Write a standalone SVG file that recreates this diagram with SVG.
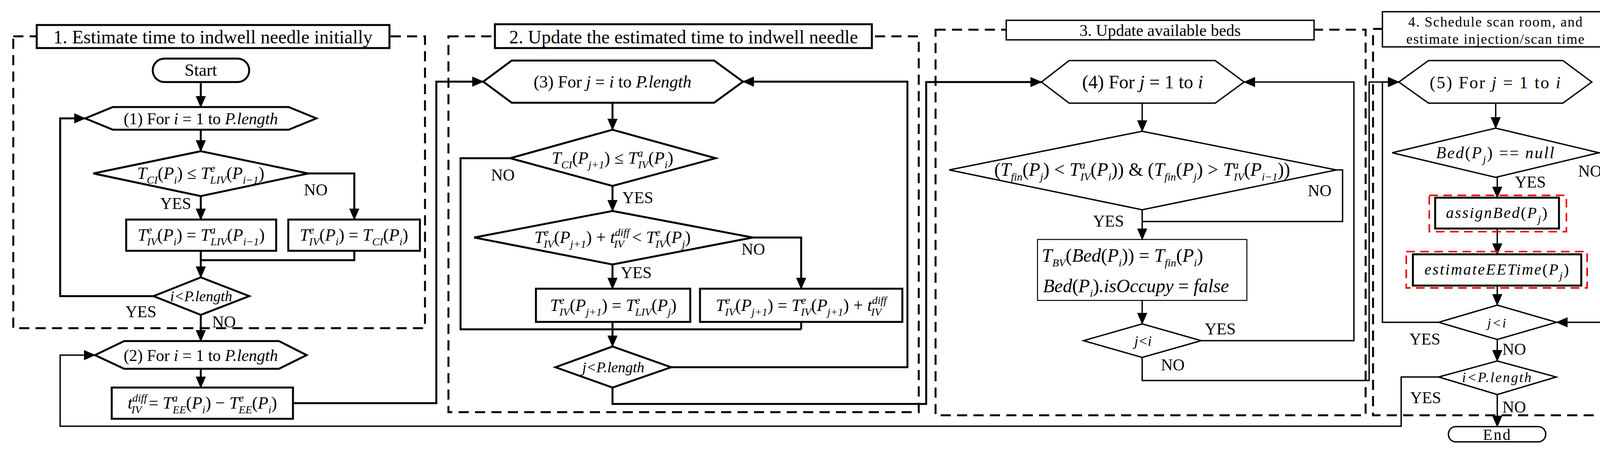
<svg xmlns="http://www.w3.org/2000/svg" width="4166" height="1157" viewBox="0 0 4166 1157">
<defs>
<marker id="ar" markerUnits="userSpaceOnUse" markerWidth="30" markerHeight="26" refX="28" refY="13" orient="auto"><path d="M0,0 L30,13 L0,26 Z" fill="#000"/></marker>
</defs>
<style>
text{font-family:"Liberation Serif","Times New Roman",serif;fill:#000}
.t{font-size:40px;text-anchor:middle}
.f{font-size:44px}
.f3{font-size:48px}
.lb{font-size:42px}
.i{font-style:italic}
.sb{font-size:28px;baseline-shift:-12px;font-style:italic}
.sp{font-size:28px;baseline-shift:18px;font-style:italic}
.pn{fill:none;stroke:#000;stroke-width:5;stroke-dasharray:26 16}
.pt{fill:#fff;stroke:#000;stroke-width:5}
.n{fill:#fff;stroke:#000;stroke-width:5}
.n3{fill:#fff;stroke:#000;stroke-width:3.5}
.c{fill:none;stroke:#000;stroke-width:5}
.c3{fill:none;stroke:#000;stroke-width:3.5}
.rd{fill:none;stroke:#e00;stroke-width:4;stroke-dasharray:22 14}
</style>
<g id="panels">
<rect class="pn" x="34" y="93" width="1054" height="747"/>
<rect class="pn" x="1148" y="93" width="1204" height="962"/>
<rect class="pn" x="2395" y="76" width="1101" height="987"/>
<rect class="pn" x="3515" y="74" width="628" height="989"/>
</g>
<g id="titles">
<rect class="pt" x="94" y="64" width="903" height="59"/>
<text class="t" x="545" y="111" style="font-size:48px">1. Estimate time to indwell needle initially</text>
<rect class="pt" x="1267" y="62" width="965" height="61"/>
<text class="t" x="1750" y="111" style="font-size:48px">2. Update the estimated time to indwell needle</text>
<rect class="n3" x="2576" y="52" width="788" height="50"/>
<text class="t" x="2970" y="92" style="font-size:42px">3. Update available beds</text>
<rect class="n3" x="3539" y="30" width="580" height="90"/>
<text class="t" x="3829" y="68" style="font-size:36px;letter-spacing:2px">4. Schedule scan room, and</text>
<text class="t" x="3829" y="112" style="font-size:36px;letter-spacing:2px">estimate injection/scan time</text>
</g>
<g id="connectors">
<path class="c" d="M514,210 V274" marker-end="url(#ar)"/>
<path class="c" d="M514,332 V387" marker-end="url(#ar)"/>
<path class="c" d="M789,444 H907 V562" marker-end="url(#ar)"/>
<path class="c" d="M514,502 V562" marker-end="url(#ar)"/>
<path class="c" d="M514,642 V710" marker-end="url(#ar)"/>
<path class="c" d="M907,642 V666 H514"/>
<path class="c" d="M393,758 H154 V303 H218" marker-end="url(#ar)"/>
<path class="c" d="M514,806 V873" marker-end="url(#ar)"/>
<path class="c" d="M514,944 V992" marker-end="url(#ar)"/>
<path class="c" d="M750,1032 H1117 V209 H1237" marker-end="url(#ar)"/>
<path class="c3" d="M3683,965 H3587 V1091 H154 V909 H243" marker-end="url(#ar)"/>
<path class="c" d="M1568,263 V332" marker-end="url(#ar)"/>
<path class="c" d="M1568,476 V540" marker-end="url(#ar)"/>
<path class="c" d="M1306,405 H1179 V843 H2051"/>
<path class="c" d="M1927,608 H2051 V739" marker-end="url(#ar)"/>
<path class="c" d="M1568,677 V739" marker-end="url(#ar)"/>
<path class="c" d="M1568,824 V887" marker-end="url(#ar)"/>
<path class="c" d="M2051,824 V843"/>
<path class="c" d="M1718,940 H2323 V209 H1902" marker-end="url(#ar)"/>
<path class="c" d="M1568,992 V1034 H2371 V210 H2666" marker-end="url(#ar)"/>
<path class="c3" d="M2924,264 V336" marker-end="url(#ar)"/>
<path class="c3" d="M3421,435 H3437 V567 H2924"/>
<path class="c3" d="M2924,537 V613" marker-end="url(#ar)"/>
<path class="c3" d="M2924,769 V829" marker-end="url(#ar)"/>
<path class="c3" d="M3075,872 H3466 V210 H3185" marker-end="url(#ar)"/>
<path class="c3" d="M2924,915 V974 H3505 V210 H3581" marker-end="url(#ar)"/>
<path class="c3" d="M3829,264 V328" marker-end="url(#ar)"/>
<path class="c3" d="M3833,454 V506" marker-end="url(#ar)"/>
<path class="c3" d="M4093,391 H4130 V825 H3985" marker-end="url(#ar)"/>
<path class="c3" d="M3833,585 V651" marker-end="url(#ar)"/>
<path class="c3" d="M3833,731 V781" marker-end="url(#ar)"/>
<path class="c3" d="M3683,825 H3539 V210 H3581" marker-end="url(#ar)"/>
<path class="c3" d="M3833,869 V924" marker-end="url(#ar)"/>
<path class="c3" d="M3833,1010 V1092" marker-end="url(#ar)"/>
</g>
<g id="labels">
<text class="lb" x="410" y="535">YES</text>
<text class="lb" x="778" y="500">NO</text>
<text class="lb" x="321" y="812">YES</text>
<text class="lb" x="543" y="838">NO</text>
<text class="lb" x="1257" y="462">NO</text>
<text class="lb" x="1593" y="520">YES</text>
<text class="lb" x="1898" y="652">NO</text>
<text class="lb" x="1589" y="712">YES</text>
<text class="lb" x="3348" y="502">NO</text>
<text class="lb" x="2798" y="580">YES</text>
<text class="lb" x="3084" y="856">YES</text>
<text class="lb" x="2972" y="948">NO</text>
<text class="lb" x="4040" y="452">NO</text>
<text class="lb" x="3878" y="480">YES</text>
<text class="lb" x="3608" y="882">YES</text>
<text class="lb" x="3846" y="908">NO</text>
<text class="lb" x="3610" y="1032">YES</text>
<text class="lb" x="3846" y="1056">NO</text>
</g>
<g id="start"><rect class="n" x="391" y="150" width="247" height="60" rx="30"/><text class="t" x="514" y="194" style="font-size:44px">Start</text></g>
<g id="for1"><polygon class="n" points="218,303 289,274 739,274 810,303 739,332 289,332"/><text class="t" x="514" y="318" style="font-size:42px">(1) For <tspan class="i">i</tspan> = 1 to <tspan class="i">P.length</tspan></text></g>
<g id="d1"><polygon class="n" points="239,444 514,387 789,444 514,502"/><text class="t f" x="514" y="458"><tspan class="i">T</tspan><tspan class="sb">CI</tspan>(<tspan class="i">P</tspan><tspan class="sb">i</tspan>) ≤ <tspan class="i">T</tspan><tspan class="sp">e</tspan><tspan class="sb" dx="-13">LIV</tspan>(<tspan class="i">P</tspan><tspan class="sb">i−1</tspan>)</text></g>
<g id="boxA"><rect class="n" x="323" y="562" width="384" height="80"/><text class="t f" x="515" y="616"><tspan class="i">T</tspan><tspan class="sp">e</tspan><tspan class="sb" dx="-13">IV</tspan>(<tspan class="i">P</tspan><tspan class="sb">i</tspan>) = <tspan class="i">T</tspan><tspan class="sp">a</tspan><tspan class="sb" dx="-13">LIV</tspan>(<tspan class="i">P</tspan><tspan class="sb">i−1</tspan>)</text></g>
<g id="boxB"><rect class="n" x="738" y="562" width="337" height="80"/><text class="t f" x="906" y="616"><tspan class="i">T</tspan><tspan class="sp">e</tspan><tspan class="sb" dx="-13">IV</tspan>(<tspan class="i">P</tspan><tspan class="sb">i</tspan>) = <tspan class="i">T</tspan><tspan class="sb">CI</tspan>(<tspan class="i">P</tspan><tspan class="sb">i</tspan>)</text></g>
<g id="d2"><polygon class="n" points="393,758 514,710 638,758 514,806"/><text class="t i" x="515" y="771" style="font-size:38px">i&lt;P.length</text></g>
<g id="for2"><polygon class="n" points="243,909 318,873 714,873 785,909 714,944 318,944"/><text class="t" x="514" y="924" style="font-size:42px">(2) For <tspan class="i">i</tspan> = 1 to <tspan class="i">P.length</tspan></text></g>
<g id="diff"><rect class="n" x="286" y="992" width="464" height="80"/><text class="t f" x="518" y="1046"><tspan class="i">t</tspan><tspan class="sp">diff</tspan><tspan class="sb" dx="-40">IV</tspan><tspan dx="18">= </tspan><tspan class="i">T</tspan><tspan class="sp">a</tspan><tspan class="sb" dx="-13">EE</tspan>(<tspan class="i">P</tspan><tspan class="sb">i</tspan>) − <tspan class="i">T</tspan><tspan class="sp">e</tspan><tspan class="sb" dx="-13">EE</tspan>(<tspan class="i">P</tspan><tspan class="sb">i</tspan>)</text></g>
<g id="for3"><polygon class="n" points="1237,209 1310,155 1828,155 1902,209 1828,263 1310,263"/><text class="t" x="1568" y="224" style="font-size:44px">(3) For <tspan class="i">j</tspan> = <tspan class="i">i</tspan> to <tspan class="i">P.length</tspan></text></g>
<g id="c1"><polygon class="n" points="1306,405 1568,332 1832,405 1568,476"/><text class="t f" x="1568" y="419"><tspan class="i">T</tspan><tspan class="sb">CI</tspan>(<tspan class="i">P</tspan><tspan class="sb">j+1</tspan>) ≤ <tspan class="i">T</tspan><tspan class="sp">a</tspan><tspan class="sb" dx="-13">IV</tspan>(<tspan class="i">P</tspan><tspan class="sb">i</tspan>)</text></g>
<g id="c2"><polygon class="n" points="1214,608 1568,540 1927,608 1568,677"/><text class="t f" x="1568" y="622"><tspan class="i">T</tspan><tspan class="sp">e</tspan><tspan class="sb" dx="-13">IV</tspan>(<tspan class="i">P</tspan><tspan class="sb">j+1</tspan>) + <tspan class="i">t</tspan><tspan class="sp">diff</tspan><tspan class="sb" dx="-40">IV</tspan><tspan dx="20">&lt; </tspan><tspan class="i">T</tspan><tspan class="sp">e</tspan><tspan class="sb" dx="-13">IV</tspan>(<tspan class="i">P</tspan><tspan class="sb">j</tspan>)</text></g>
<g id="boxC"><rect class="n" x="1372" y="739" width="395" height="85"/><text class="t f" x="1570" y="796"><tspan class="i">T</tspan><tspan class="sp">e</tspan><tspan class="sb" dx="-13">IV</tspan>(<tspan class="i">P</tspan><tspan class="sb">j+1</tspan>) = <tspan class="i">T</tspan><tspan class="sp">e</tspan><tspan class="sb" dx="-13">LIV</tspan>(<tspan class="i">P</tspan><tspan class="sb">j</tspan>)</text></g>
<g id="boxD"><rect class="n" x="1792" y="739" width="518" height="85"/><text class="t f" x="2051" y="796"><tspan class="i">T</tspan><tspan class="sp">e</tspan><tspan class="sb" dx="-13">IV</tspan>(<tspan class="i">P</tspan><tspan class="sb">j+1</tspan>) = <tspan class="i">T</tspan><tspan class="sp">e</tspan><tspan class="sb" dx="-13">IV</tspan>(<tspan class="i">P</tspan><tspan class="sb">j+1</tspan>) + <tspan class="i">t</tspan><tspan class="sp">diff</tspan><tspan class="sb" dx="-40">IV</tspan></text></g>
<g id="c3"><polygon class="n" points="1422,940 1568,887 1718,940 1568,992"/><text class="t i" x="1570" y="953" style="font-size:38px">j&lt;P.length</text></g>
<g id="for4"><polygon class="n3" points="2666,210 2737,155 3111,155 3185,210 3111,264 2737,264"/><text class="t" x="2925" y="226" style="font-size:48px">(4) For <tspan class="i">j</tspan> = 1 to <tspan class="i">i</tspan></text></g>
<g id="e1"><polygon class="n3" points="2430,435 2924,336 3421,435 2924,537"/><text class="t f3" x="2924" y="450"><tspan>(</tspan><tspan class="i">T</tspan><tspan class="sb">fin</tspan>(<tspan class="i">P</tspan><tspan class="sb">j</tspan>) &lt; <tspan class="i">T</tspan><tspan class="sp">a</tspan><tspan class="sb" dx="-13">IV</tspan>(<tspan class="i">P</tspan><tspan class="sb">i</tspan>)) &amp; (<tspan class="i">T</tspan><tspan class="sb">fin</tspan>(<tspan class="i">P</tspan><tspan class="sb">j</tspan>) &gt; <tspan class="i">T</tspan><tspan class="sp">a</tspan><tspan class="sb" dx="-13">IV</tspan>(<tspan class="i">P</tspan><tspan class="sb">i−1</tspan>))</text></g>
<g id="boxE"><rect class="n3" x="2656" y="613" width="536" height="156" style="stroke-width:2.5"/><text class="f3" x="2667" y="670"><tspan class="i">T</tspan><tspan class="sb">BV</tspan>(<tspan class="i">Bed</tspan>(<tspan class="i">P</tspan><tspan class="sb">i</tspan>)) = <tspan class="i">T</tspan><tspan class="sb">fin</tspan>(<tspan class="i">P</tspan><tspan class="sb">i</tspan>)</text><text class="f3" x="2670" y="748"><tspan class="i">Bed</tspan>(<tspan class="i">P</tspan><tspan class="sb">i</tspan>)<tspan class="i">.isOccupy</tspan> = <tspan class="i">false</tspan></text></g>
<g id="e2"><polygon class="n3" points="2774,872 2924,829 3075,872 2924,915"/><text class="t i" x="2926" y="885" style="font-size:36px">j&lt;i</text></g>
<g id="for5"><polygon class="n3" points="3581,210 3657,155 4001,155 4075,210 4001,264 3657,264"/><text class="t" x="3829" y="226" style="font-size:44px;letter-spacing:3px">(5) For <tspan class="i">j</tspan> = 1 to <tspan class="i">i</tspan></text></g>
<g id="f1"><polygon class="n3" points="3564,391 3829,328 4093,391 3829,454"/><text class="t" x="3829" y="405" style="font-size:42px;letter-spacing:3px"><tspan class="i">Bed</tspan>(<tspan class="i">P</tspan><tspan class="sb">j</tspan>) == <tspan class="i">null</tspan></text></g>
<g id="assign"><rect class="rd" x="3659" y="500" width="351" height="93"/><rect class="n" x="3674" y="506" width="317" height="79"/><text class="t" x="3833" y="558" style="font-size:40px;letter-spacing:3px"><tspan class="i">assignBed</tspan>(<tspan class="i">P</tspan><tspan class="sb">j</tspan>)</text></g>
<g id="estimate"><rect class="rd" x="3600" y="644" width="463" height="93"/><rect class="n" x="3617" y="651" width="431" height="80"/><text class="t" x="3833" y="703" style="font-size:40px;letter-spacing:3px"><tspan class="i">estimateEETime</tspan>(<tspan class="i">P</tspan><tspan class="sb">j</tspan>)</text></g>
<g id="f2"><polygon class="n3" points="3683,825 3833,781 3985,825 3833,869"/><text class="t i" x="3833" y="838" style="font-size:34px;letter-spacing:3px">j&lt;i</text></g>
<g id="f3"><polygon class="n3" points="3683,965 3833,924 3984,965 3833,1010"/><text class="t i" x="3833" y="978" style="font-size:36px;letter-spacing:3px">i&lt;P.length</text></g>
<g id="end"><rect class="n3" x="3708" y="1092" width="249" height="39" rx="19"/><text class="t" x="3833" y="1126" style="font-size:40px;letter-spacing:3px">End</text></g>
</svg>
